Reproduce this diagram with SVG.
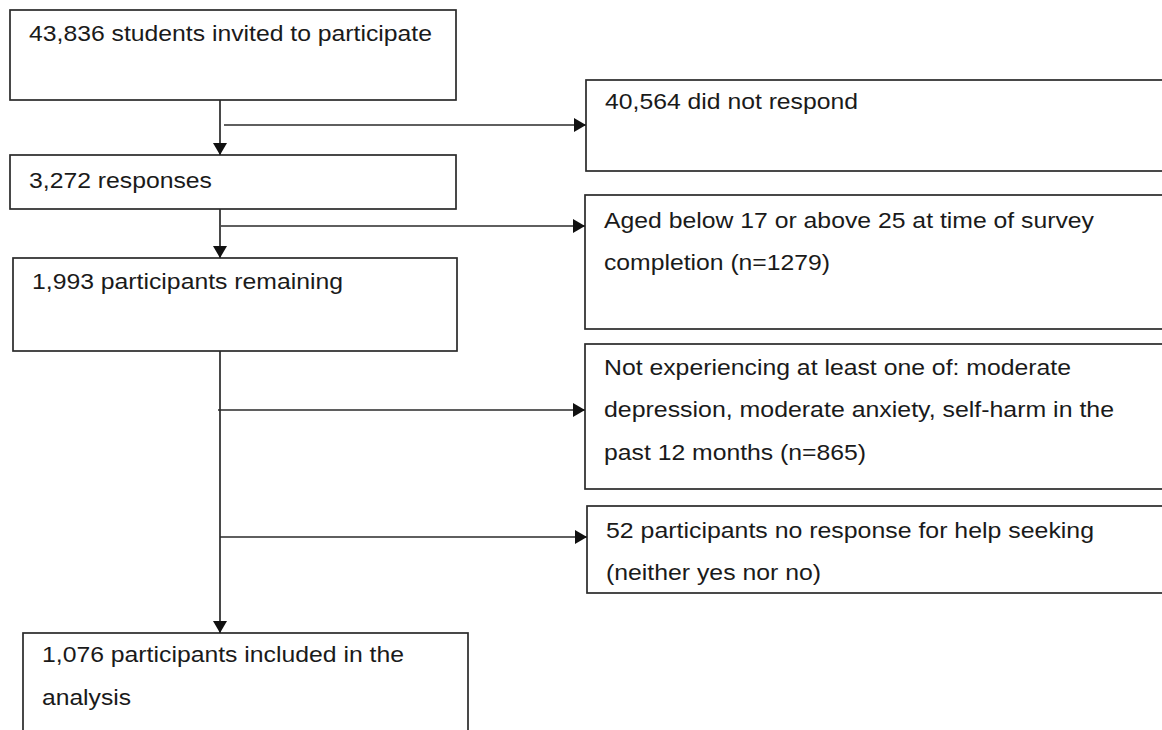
<svg xmlns="http://www.w3.org/2000/svg" width="1162" height="730" viewBox="0 0 1162 730">
<style>
.box{fill:#fff;stroke:#2a2a2a;stroke-width:1.7}
.t{font-family:"Liberation Sans",Arial,sans-serif;font-size:22px;fill:#1a1a1a}
.c{fill:none;stroke:#2a2a2a;stroke-width:1.7}
</style>
<defs>
<marker id="ah" viewBox="0 0 12 14" refX="12" refY="7" markerWidth="12" markerHeight="14" markerUnits="userSpaceOnUse" orient="auto">
<path d="M0,0 L12,7 L0,14 Z" fill="#111"/>
</marker>
</defs>
<rect width="1162" height="730" fill="#fff"/>
<g id="n1"><rect class="box" x="10" y="10" width="446" height="90"/><text class="t" x="29" y="41" textLength="403" lengthAdjust="spacingAndGlyphs">43,836 students invited to participate</text></g>
<g id="n2"><rect class="box" x="10" y="155" width="446" height="54"/><text class="t" x="29" y="188" textLength="183" lengthAdjust="spacingAndGlyphs">3,272 responses</text></g>
<g id="n3"><rect class="box" x="13" y="258" width="444" height="93"/><text class="t" x="32" y="289" textLength="311" lengthAdjust="spacingAndGlyphs">1,993 participants remaining</text></g>
<g id="n4"><rect class="box" x="23" y="633" width="445" height="110"/><text class="t" x="42" y="662" textLength="362" lengthAdjust="spacingAndGlyphs">1,076 participants included in the</text><text class="t" x="42" y="705" textLength="89" lengthAdjust="spacingAndGlyphs">analysis</text></g>
<g id="e1"><rect class="box" x="586" y="80" width="590" height="91"/><text class="t" x="605" y="109" textLength="253" lengthAdjust="spacingAndGlyphs">40,564 did not respond</text></g>
<g id="e2"><rect class="box" x="585" y="195" width="590" height="134"/><text class="t" x="604" y="228" textLength="490" lengthAdjust="spacingAndGlyphs">Aged below 17 or above 25 at time of survey</text><text class="t" x="604" y="270" textLength="226" lengthAdjust="spacingAndGlyphs">completion (n=1279)</text></g>
<g id="e3"><rect class="box" x="585" y="344" width="590" height="145"/><text class="t" x="604" y="375" textLength="467" lengthAdjust="spacingAndGlyphs">Not experiencing at least one of: moderate</text><text class="t" x="604" y="417" textLength="510" lengthAdjust="spacingAndGlyphs">depression, moderate anxiety, self-harm in the</text><text class="t" x="604" y="460" textLength="262" lengthAdjust="spacingAndGlyphs">past 12 months (n=865)</text></g>
<g id="e4"><rect class="box" x="587" y="506" width="590" height="87"/><text class="t" x="606" y="538" textLength="488" lengthAdjust="spacingAndGlyphs">52 participants no response for help seeking</text><text class="t" x="606" y="580" textLength="215" lengthAdjust="spacingAndGlyphs">(neither yes nor no)</text></g>
<g id="connectors">
<line class="c" x1="220" y1="100" x2="220" y2="155" marker-end="url(#ah)"/>
<line class="c" x1="224" y1="125" x2="586" y2="125" marker-end="url(#ah)"/>
<line class="c" x1="220" y1="209" x2="220" y2="258" marker-end="url(#ah)"/>
<line class="c" x1="221" y1="226" x2="585" y2="226" marker-end="url(#ah)"/>
<line class="c" x1="220" y1="351" x2="220" y2="633" marker-end="url(#ah)"/>
<line class="c" x1="218" y1="410" x2="585" y2="410" marker-end="url(#ah)"/>
<line class="c" x1="220" y1="537" x2="587" y2="537" marker-end="url(#ah)"/>
</g>
</svg>
